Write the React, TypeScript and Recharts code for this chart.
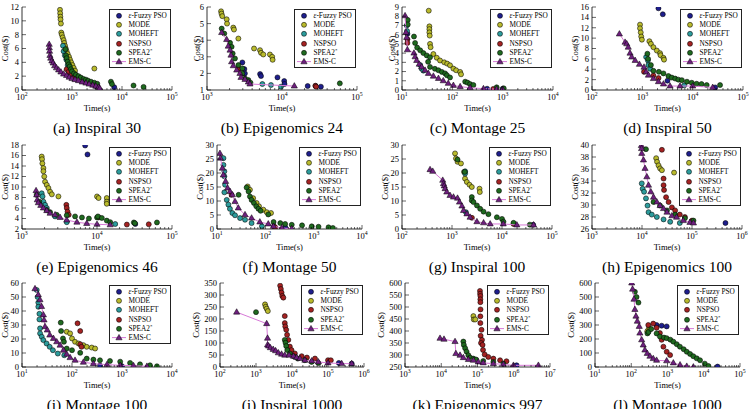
import React from "react";
import { ScatterChart, Scatter, XAxis, YAxis } from "recharts";

type Pt = [number, number];

const FONT = '"Liberation Serif", "DejaVu Serif", serif';

// (a) Inspiral 30
const insp30Fuzzy: Pt[] = [[2500, 0.9], [2900, 0.6], [3200, 0.5], [7000, 0.4]];
const insp30Mode: Pt[] = [[575, 11.6], [580, 11.1], [585, 10.6], [590, 10.2], [600, 9.6], [610, 8.3], [625, 8.0], [650, 7.6], [680, 7.2], [700, 6.8], [725, 6.4], [750, 6.0], [780, 5.6], [820, 5.2], [870, 4.8], [910, 4.4], [960, 4.0], [1020, 3.6], [1080, 3.2], [1150, 2.8], [2800, 3.1]];
const insp30Moheft: Pt[] = [[660, 6.4], [680, 5.6], [720, 5.0], [770, 4.4], [820, 3.6], [900, 3.0], [1000, 2.4]];
const insp30Nspso: Pt[] = [[780, 3.0], [850, 2.6], [950, 2.2], [1100, 1.7]];
const insp30Spea: Pt[] = [[740, 5.9], [760, 5.0], [780, 4.6], [820, 4.1], [860, 3.7], [900, 3.4], [950, 3.0], [1000, 2.7], [1100, 2.4], [1200, 2.2], [1350, 2.0], [1500, 1.8], [1700, 1.6], [1900, 1.5], [2100, 1.35], [2400, 1.2], [2800, 1.05], [3200, 0.9], [6000, 1.2], [6300, 0.85], [17000, 0.65], [27000, 0.45]];
const insp30Ems: Pt[] = [[350, 6.6], [352, 6.1], [356, 5.6], [362, 5.0], [375, 4.6], [395, 4.2], [420, 3.9], [450, 3.5], [490, 3.2], [540, 2.9], [600, 2.6], [680, 2.3], [780, 2.1], [880, 1.85], [1000, 1.65], [1150, 1.5], [1350, 1.35], [1600, 1.15], [1900, 1.0], [2200, 0.85], [2600, 0.7], [3000, 0.55], [3400, 0.4], [3600, 0.25]];

// (b) Epigenomics 24
const epi24Fuzzy: Pt[] = [[2960, 2.66], [3150, 2.26], [3200, 2.0], [5100, 1.96], [5250, 1.84], [8700, 1.76], [10700, 1.54], [10800, 1.36], [22000, 1.24], [28000, 1.24], [33000, 1.2]];
const epi24Mode: Pt[] = [[1540, 5.74], [1560, 5.6], [1600, 5.45], [1830, 5.26], [1850, 5.0], [2240, 4.76], [2290, 4.64], [2620, 4.1], [4240, 3.5], [5090, 3.4], [5250, 3.24], [5630, 3.14], [6900, 3.14], [7400, 3.0], [7500, 2.82]];
const epi24Moheft: Pt[] = [[5470, 1.36], [7130, 1.3], [9700, 1.2]];
const epi24Nspso: Pt[] = [[2620, 2.25], [27900, 1.26], [28500, 1.2]];
const epi24Spea: Pt[] = [[1570, 4.7], [1700, 4.4], [2030, 3.84], [2130, 3.6], [2200, 3.2], [2360, 2.9], [2620, 2.5], [2960, 2.3], [2960, 2.0], [3210, 1.7], [3560, 1.6], [3800, 1.44], [59000, 1.4]];
const epi24Ems: Pt[] = [[1570, 4.46], [1830, 4.04], [1920, 3.64], [2030, 3.4], [2090, 3.1], [2130, 2.7], [2240, 2.46], [2490, 2.2], [2750, 2.0], [2840, 1.76], [3210, 1.64], [3560, 1.48], [3740, 1.36], [14600, 1.24]];

// (c) Montage 25
const mon25Fuzzy: Pt[] = [[12.8, 6.1], [490, 0.14], [1000, 0.14]];
const mon25Mode: Pt[] = [[34, 8.6], [35, 6.9], [35, 6.6], [35, 6.25], [35.5, 5.9], [36, 5.0], [37, 4.64], [42, 3.9], [49, 3.5], [57, 3.2], [69, 3.0], [79, 2.86], [90, 2.68], [105, 2.32], [119, 2.14], [143, 1.96], [149, 1.7]];
const mon25Moheft: Pt[] = [[12.4, 7.0], [12.6, 6.4], [23, 2.7], [24.6, 2.3], [26.6, 2.1]];
const mon25Nspso: Pt[] = [[12.8, 5.5], [12.8, 5.1], [650, 0.12]];
const mon25Spea: Pt[] = [[13, 7.6], [13, 7.1], [17.3, 5.8], [18.2, 5.1], [20, 4.6], [23, 4.3], [26.6, 4.0], [31, 3.75], [36, 3.55], [33, 3.05], [36, 2.5], [45, 2.3], [53, 2.14], [62, 1.96], [72, 1.8], [78, 1.6], [90, 1.36], [180, 0.9], [200, 0.8], [225, 0.64], [262, 0.54], [760, 0.29], [1050, 0.18]];
const mon25Ems: Pt[] = [[11.5, 8.05], [12, 6.25], [12.4, 5.7], [12.8, 4.36], [17.3, 4.0], [18.2, 3.6], [19.6, 3.2], [22, 2.8], [24.6, 2.5], [28.7, 2.14], [33.4, 1.8], [42, 1.5], [53, 1.25], [66, 1.0], [83, 0.72], [105, 0.5], [143, 0.36], [225, 0.25], [415, 0.14], [760, 0.1], [1000, 0.07]];

// (d) Inspiral 50
const insp50Fuzzy: Pt[] = [[2090, 15.75], [2550, 14.6], [3160, 1.8], [28000, 0.5]];
const insp50Mode: Pt[] = [[900, 12.6], [900, 11.9], [930, 11.1], [950, 10.3], [980, 9.7], [1380, 9.4], [1480, 8.9], [1660, 8.25], [1940, 7.6], [2250, 7.1], [2300, 6.7], [2630, 6.2], [2700, 5.85]];
const insp50Moheft: Pt[] = [[1190, 6.35], [1290, 5.7], [1320, 4.8], [1430, 4.1], [6800, 0.9]];
const insp50Nspso: Pt[] = [[1080, 3.5], [1660, 2.8], [2100, 2.3]];
const insp50Spea: Pt[] = [[1260, 7.0], [1300, 6.0], [1480, 4.8], [1660, 3.7], [2130, 3.5], [2630, 3.2], [3300, 2.7], [3850, 2.4], [4500, 2.2], [5200, 2.0], [6100, 1.9], [7700, 1.6], [9600, 1.4], [12000, 1.2], [15000, 1.15], [19000, 0.95], [35000, 0.95]];
const insp50Ems: Pt[] = [[350, 10.8], [454, 9.2], [490, 8.9], [525, 8.25], [570, 7.1], [615, 6.35], [720, 5.7], [875, 4.95], [1080, 4.4], [1190, 3.5], [1320, 2.86], [1660, 2.2], [2090, 1.6], [2630, 1.15], [3550, 0.76], [5600, 0.76], [10000, 0.76], [25000, 0.5]];

// (e) Epigenomics 46
const epi46Fuzzy: Pt[] = [[6950, 17.9], [7470, 16.2], [32400, 2.95]];
const epi46Mode: Pt[] = [[1830, 15.8], [1850, 15.3], [1870, 14.5], [1930, 13.6], [1930, 13.0], [1980, 12.0], [2030, 11.0], [2140, 10.4], [2250, 9.8], [2370, 9.1], [2500, 8.6], [3060, 8.2], [10000, 8.2], [10500, 7.9], [13500, 7.9], [13500, 7.2], [13500, 6.8]];
const epi46Moheft: Pt[] = [[1830, 8.8], [1880, 8.2], [1930, 7.2], [2030, 6.6], [2140, 6.0], [2760, 4.4], [3950, 3.3], [17500, 2.95]];
const epi46Nspso: Pt[] = [[3900, 6.6], [3950, 6.0], [4050, 5.3], [4200, 4.7], [10500, 4.2], [25000, 2.85], [49000, 2.9]];
const epi46Spea: Pt[] = [[1570, 8.5], [1700, 7.2], [2140, 5.6], [2370, 5.2], [2900, 4.7], [3950, 4.6], [5100, 4.4], [6300, 4.2], [7800, 4.0], [10000, 4.2], [10300, 4.4], [11600, 4.1], [13500, 3.6], [15000, 3.3], [31000, 3.25], [32000, 3.1], [63000, 3.25]];
const epi46Ems: Pt[] = [[1540, 9.3], [1570, 8.5], [1600, 7.55], [1650, 7.0], [1780, 6.5], [1930, 6.0], [2140, 5.5], [2370, 5.0], [2760, 4.7], [3220, 4.2], [3950, 3.7], [5400, 3.3], [7300, 3.05], [10000, 2.9], [15000, 2.8]];

// (f) Montage 50
const mon50Fuzzy: Pt[] = [[150, 1.0], [260, 0.5]];
const mon50Mode: Pt[] = [[43, 15.2], [48, 14.0], [56, 11.0], [66, 9.3], [74, 8.1], [91, 6.9], [107, 6.0], [131, 5.7]];
const mon50Moheft: Pt[] = [[13.6, 25.3], [13.6, 22.9], [14.2, 20.6], [14.2, 18.8], [14.7, 15.8], [14.2, 13.1], [15.9, 10.4], [17.2, 8.7], [18.5, 7.2], [20.8, 5.7], [23.6, 4.9], [30, 3.9], [38, 3.3], [52, 2.1], [85, 0.95]];
const mon50Nspso: Pt[] = [[20, 12.2], [160, 0.6]];
const mon50Spea: Pt[] = [[28, 12.2], [41, 14.8], [45, 13.4], [48, 11.6], [52, 10.4], [58, 9.3], [65, 8.1], [72, 7.2], [80, 6.5], [115, 5.2], [148, 2.5], [204, 2.1], [257, 1.8], [352, 1.5], [575, 1.3], [912, 0.95], [1260, 0.8], [2030, 0.6], [2500, 0.36]];
const mon50Ems: Pt[] = [[11.5, 27.0], [11.8, 25.3], [12.9, 21.7], [13.5, 19.3], [15.1, 17.0], [16.6, 14.6], [18.6, 13.4], [20.8, 12.2], [23.6, 9.8], [27.6, 7.5], [38, 5.1], [52, 3.9], [77, 2.5], [115, 1.8], [147, 0.95], [219, 0.36], [352, 0.12]];

// (g) Inspiral 100
const insp100Fuzzy: Pt[] = [[42000, 1.5]];
const insp100Mode: Pt[] = [[1150, 27.0], [1200, 25.2], [1290, 24.0], [1510, 23.4], [1740, 20.4], [1820, 18.0], [1980, 16.8], [2240, 15.8], [2490, 15.0], [3550, 14.4], [3600, 13.2]];
const insp100Moheft: Pt[] = [[1830, 20.6], [1830, 19.8], [1900, 6.0]];
const insp100Nspso: Pt[] = [[2500, 4.0], [17000, 1.8]];
const insp100Spea: Pt[] = [[1290, 24.8], [1800, 20.4], [2490, 11.4], [2490, 10.2], [2690, 9.6], [3150, 8.4], [3660, 7.2], [4280, 6.2], [5350, 5.3], [7900, 4.2], [10000, 3.6], [10700, 2.6], [17000, 2.2], [36000, 1.56]];
const insp100Ems: Pt[] = [[364, 21.2], [412, 20.6], [653, 17.4], [676, 16.2], [700, 15.4], [728, 14.4], [786, 13.2], [912, 12.0], [1070, 11.4], [1290, 11.0], [1410, 9.6], [1580, 8.2], [1700, 6.6], [1990, 5.4], [2300, 4.2], [3150, 2.6], [4280, 2.2], [5800, 1.8], [10600, 1.8], [19800, 1.44], [42800, 1.44]];

// (h) Epigenomics 100
const epi100Fuzzy: Pt[] = [[467000, 27.0]];
const epi100Mode: Pt[] = [[19200, 37.8], [20000, 37.2], [21400, 36.6], [23000, 36.1], [25000, 35.8], [43800, 35.4]];
const epi100Moheft: Pt[] = [[9890, 33.6], [10300, 32.7], [11000, 32.2], [12000, 31.1], [12900, 29.9], [13500, 28.8], [15700, 28.4], [19800, 28.0], [27000, 27.6], [36600, 27.2], [57000, 27.0]];
const epi100Nspso: Pt[] = [[25000, 39.2], [27000, 34.4], [27000, 33.3], [27600, 32.5], [30300, 31.3], [34000, 30.5], [39600, 29.6], [46000, 29.1], [57000, 28.4], [72000, 28.0], [100000, 27.4]];
const epi100Spea: Pt[] = [[12000, 39.3], [17000, 30.5], [23000, 29.9], [31600, 29.1], [46000, 28.4], [72000, 27.8], [107000, 27.4]];
const epi100Ems: Pt[] = [[9700, 39.9], [9800, 39.4], [9890, 38.6], [10700, 37.5], [11500, 36.1], [12500, 34.7], [13500, 33.3], [15000, 32.2], [17000, 31.3], [19800, 30.5], [23000, 29.9], [27000, 29.4], [31600, 28.8], [39600, 28.2], [49000, 27.96], [67000, 27.4], [91000, 27.1], [107000, 27.0]];

// (i) Montage 100
const mon100Fuzzy: Pt[] = [[363, 1.0], [1000, 0.5]];
const mon100Mode: Pt[] = [[78.5, 25.2], [91.6, 24], [100, 20.4], [115, 18], [135, 16.8], [169, 15.6], [197, 14.4], [248, 13.9], [290, 13.2]];
const mon100Moheft: Pt[] = [[19.7, 55], [20.5, 50], [21.2, 46], [21.2, 43], [22.3, 38], [22.3, 34], [23, 27.6], [23, 24], [24.8, 21.6], [26.7, 19.2], [31, 16.8], [35.8, 14.4], [41.5, 12], [52, 9.6], [70, 8.4]];
const mon100Nspso: Pt[] = [[129, 31.2], [146, 25.7], [146, 16.3], [155, 14.4]];
const mon100Spea: Pt[] = [[59.6, 31.7], [60.5, 25.7], [66, 20.4], [69, 18], [78.5, 13.2], [100, 12], [146, 10.1], [197, 6.0], [268, 5.3], [363, 4.8], [575, 4.3], [920, 3.8], [1450, 2.9], [2290, 1.9], [3630, 1.2], [5000, 0.5]];
const mon100Ems: Pt[] = [[18.2, 55.9], [21.2, 51.6], [22.9, 48], [24.6, 43.2], [26.8, 37.2], [27.6, 33.6], [28.9, 28.8], [32, 26.4], [36, 22.8], [42.5, 20.4], [49.5, 18], [57.8, 15.6], [67.5, 12], [78.5, 9.1], [91.6, 6.7], [115, 4.8], [169, 3.4], [268, 2.4], [500, 1.7], [920, 1.2], [1700, 0.96], [3150, 0.5]];

// (j) Inspiral 1000
const insp1000Fuzzy: Pt[] = [[200000, 16.9], [455000, 14.1]];
const insp1000Mode: Pt[] = [[1780, 261], [1860, 251], [1980, 243], [2130, 233]];
const insp1000Nspso: Pt[] = [[4680, 339], [4900, 325], [5130, 310], [5370, 296], [5750, 289], [6300, 212], [6300, 183], [6500, 169], [6900, 155], [7300, 134], [7900, 113], [8700, 85], [9700, 70.5], [12000, 56.4], [18600, 45], [26000, 39.5], [43500, 35.3], [100000, 28.2], [120000, 28]];
const insp1000Spea: Pt[] = [[1000, 228.6], [6300, 113], [6600, 101], [6900, 87.5], [7400, 70.5], [8700, 56.4], [11000, 45], [14500, 35], [22800, 28.2], [35000, 21.2], [54000, 16.9]];
const insp1000Ems: Pt[] = [[290, 228.6], [1980, 180.6], [2090, 120], [2090, 92], [2240, 87.5], [2500, 80.4], [3000, 73.4], [3500, 67.7], [4170, 59], [5130, 53.6], [6300, 49.4], [8300, 49.4], [11000, 45], [13500, 39.5], [16600, 35.3], [22800, 28.2], [35200, 25.4], [54000, 21.2], [100000, 16.9], [240000, 14.1], [455000, 14.1]];

// (k) Epigenomics 997
const epi997Fuzzy: Pt[] = [[340000, 525], [1200000, 257]];
const epi997Mode: Pt[] = [[77000, 462], [79000, 448], [87000, 448]];
const epi997Nspso: Pt[] = [[117000, 567], [118000, 555], [120000, 546], [120000, 532], [120000, 520], [121000, 490], [120000, 461], [120000, 433], [129000, 405], [122000, 380], [133000, 363], [125000, 350], [138000, 342], [142000, 321], [158000, 302], [198000, 292], [274000, 285], [420000, 278], [630000, 274]];
const epi997Spea: Pt[] = [[40700, 356], [42000, 342], [45700, 328], [50000, 314], [56000, 299], [63000, 289], [77000, 285], [92000, 281], [144000, 275], [274000, 271], [516000, 264]];
const epi997Ems: Pt[] = [[9250, 369.6], [11900, 365.7], [24000, 356], [25300, 306], [33000, 299], [40700, 289], [56000, 281], [77000, 278], [105000, 271], [144000, 267], [274000, 264], [516000, 261], [981000, 257], [4780000, 257]];

// (l) Montage 1000
const mon1000Fuzzy: Pt[] = [[500, 300], [690, 295], [950, 290], [24000, 3]];
const mon1000Mode: Pt[] = [[276, 254], [300, 270], [328, 271]];
const mon1000Nspso: Pt[] = [[295, 300], [404, 310], [500, 280], [617, 242], [690, 194], [770, 145], [950, 109], [1180, 85]];
const mon1000Spea: Pt[] = [[126, 537], [140, 500], [158, 460], [280, 240], [300, 250], [355, 271], [500, 240], [617, 218], [800, 210], [950, 206], [1200, 195], [1450, 181], [1800, 163], [2200, 145], [2800, 127], [3400, 109], [4200, 93], [5150, 77], [6400, 62], [7900, 48], [10700, 24], [13500, 7]];
const mon1000Ems: Pt[] = [[103, 600], [109, 556], [119, 484], [126, 411], [135, 363], [147, 327], [166, 290], [173, 242], [194, 194], [214, 157], [238, 121], [276, 97], [328, 77], [404, 60], [500, 48], [950, 44], [1450, 29], [2220, 15], [3400, 5], [5170, 0]];

// y-axis tick labels
const insp30Ticks = [0, 2, 4, 6, 8, 10, 12];
const epi24Ticks = [1, 2, 3, 4, 5, 6];
const mon25Ticks = [0, 1, 2, 3, 4, 5, 6, 7, 8, 9];
const insp50Ticks = [0, 2, 4, 6, 8, 10, 12, 14, 16];
const epi46Ticks = [2, 4, 6, 8, 10, 12, 14, 16, 18];
const mon50Ticks = [0, 5, 10, 15, 20, 25, 30];
const insp100Ticks = [0, 5, 10, 15, 20, 25, 30];
const epi100Ticks = [26, 28, 30, 32, 34, 36, 38, 40];
const mon100Ticks = [0, 10, 20, 30, 40, 50, 60];
const insp1000Ticks = [0, 50, 100, 150, 200, 250, 300, 350];
const epi997Ticks = [250, 300, 350, 400, 450, 500, 550, 600];
const mon1000Ticks = [0, 100, 200, 300, 400, 500, 600];

type Key = "fuzzy" | "mode" | "moheft" | "nspso" | "spea" | "ems";

const STYLE: Record<Key, { fill: string; label: React.ReactNode }> = {
  fuzzy: { fill: "#1e1e8c", label: <><i>ε</i>-Fuzzy PSO</> },
  mode: { fill: "#b9ba2c", label: "MODE" },
  moheft: { fill: "#2c9c9c", label: "MOHEFT" },
  nspso: { fill: "#a42222", label: "NSPSO" },
  spea: { fill: "#1f6a1f", label: <>SPEA2<sup style={{ fontSize: 5, lineHeight: 0 }}>*</sup></> },
  ems: { fill: "#6e1f7e", label: "EMS-C" },
};
const ORDER: Key[] = ["fuzzy", "mode", "moheft", "nspso", "spea", "ems"];
const EMS_LINE = "#d77ad7";

interface PanelDef {
  caption: string;
  left: number;
  top: number;
  w: number;
  h: number;
  xDomain: [number, number];
  yDomain: [number, number];
  yTicks: number[];
  series: Partial<Record<Key, Pt[]>>;
}

const PANELS: PanelDef[] = [
  { caption: "(a) Inspiral 30", left: 22, top: 7, w: 150, h: 83, xDomain: [1e2, 1e5], yDomain: [0, 12], yTicks: insp30Ticks,
    series: { fuzzy: insp30Fuzzy, mode: insp30Mode, moheft: insp30Moheft, nspso: insp30Nspso, spea: insp30Spea, ems: insp30Ems } },
  { caption: "(b) Epigenomics 24", left: 207, top: 7, w: 150, h: 83, xDomain: [1e3, 1e5], yDomain: [1, 6], yTicks: epi24Ticks,
    series: { fuzzy: epi24Fuzzy, mode: epi24Mode, moheft: epi24Moheft, nspso: epi24Nspso, spea: epi24Spea, ems: epi24Ems } },
  { caption: "(c) Montage 25", left: 402, top: 7, w: 151, h: 83, xDomain: [1e1, 1e4], yDomain: [0, 9], yTicks: mon25Ticks,
    series: { fuzzy: mon25Fuzzy, mode: mon25Mode, moheft: mon25Moheft, nspso: mon25Nspso, spea: mon25Spea, ems: mon25Ems } },
  { caption: "(d) Inspiral 50", left: 592, top: 7, w: 151, h: 83, xDomain: [1e2, 1e5], yDomain: [0, 16], yTicks: insp50Ticks,
    series: { fuzzy: insp50Fuzzy, mode: insp50Mode, moheft: insp50Moheft, nspso: insp50Nspso, spea: insp50Spea, ems: insp50Ems } },
  { caption: "(e) Epigenomics 46", left: 22, top: 145, w: 150, h: 84, xDomain: [1e3, 1e5], yDomain: [2, 18], yTicks: epi46Ticks,
    series: { fuzzy: epi46Fuzzy, mode: epi46Mode, moheft: epi46Moheft, nspso: epi46Nspso, spea: epi46Spea, ems: epi46Ems } },
  { caption: "(f) Montage 50", left: 217, top: 145, w: 145, h: 84, xDomain: [1e1, 1e4], yDomain: [0, 30], yTicks: mon50Ticks,
    series: { fuzzy: mon50Fuzzy, mode: mon50Mode, moheft: mon50Moheft, nspso: mon50Nspso, spea: mon50Spea, ems: mon50Ems } },
  { caption: "(g) Inspiral 100", left: 402, top: 145, w: 150, h: 84, xDomain: [1e2, 1e5], yDomain: [0, 30], yTicks: insp100Ticks,
    series: { fuzzy: insp100Fuzzy, mode: insp100Mode, moheft: insp100Moheft, nspso: insp100Nspso, spea: insp100Spea, ems: insp100Ems } },
  { caption: "(h) Epigenomics 100", left: 592, top: 145, w: 150, h: 84, xDomain: [1e3, 1e6], yDomain: [26, 40], yTicks: epi100Ticks,
    series: { fuzzy: epi100Fuzzy, mode: epi100Mode, moheft: epi100Moheft, nspso: epi100Nspso, spea: epi100Spea, ems: epi100Ems } },
  { caption: "(i) Montage 100", left: 22, top: 283, w: 150, h: 84, xDomain: [1e1, 1e4], yDomain: [0, 60], yTicks: mon100Ticks,
    series: { fuzzy: mon100Fuzzy, mode: mon100Mode, moheft: mon100Moheft, nspso: mon100Nspso, spea: mon100Spea, ems: mon100Ems } },
  { caption: "(j) Inspiral 1000", left: 220, top: 283, w: 144, h: 84, xDomain: [1e2, 1e6], yDomain: [0, 350], yTicks: insp1000Ticks,
    series: { fuzzy: insp1000Fuzzy, mode: insp1000Mode, nspso: insp1000Nspso, spea: insp1000Spea, ems: insp1000Ems } },
  { caption: "(k) Epigenomics 997", left: 405, top: 283, w: 145, h: 84, xDomain: [1e3, 1e7], yDomain: [250, 600], yTicks: epi997Ticks,
    series: { fuzzy: epi997Fuzzy, mode: epi997Mode, nspso: epi997Nspso, spea: epi997Spea, ems: epi997Ems } },
  { caption: "(l) Montage 1000", left: 595, top: 283, w: 145, h: 84, xDomain: [1e1, 1e5], yDomain: [0, 600], yTicks: mon1000Ticks,
    series: { fuzzy: mon1000Fuzzy, mode: mon1000Mode, nspso: mon1000Nspso, spea: mon1000Spea, ems: mon1000Ems } },
];

const AXIS_W = 36;
const AXIS_H = 26;
const PAD_T = 8; // room above the top y tick label
const PAD_R = 12; // room for the last x tick label

// major + minor ticks for a log axis
function logTicks([lo, hi]: [number, number]) {
  const out: number[] = [];
  for (let d = Math.round(Math.log10(lo)); d < Math.round(Math.log10(hi)); d++) {
    for (let k = 1; k < 10; k++) out.push(k * Math.pow(10, d));
  }
  out.push(hi);
  return out;
}

const isMajor = (v: number) => {
  const l = Math.log10(v);
  return Math.abs(l - Math.round(l)) < 1e-6;
};

const BottomTick = (props: any) => {
  const { x, y, payload } = props;
  const major = isMajor(payload.value);
  return (
    <g>
      <line x1={x} x2={x} y1={y} y2={y - (major ? 4 : 2)} stroke="#000" strokeWidth={0.6} />
      {major && (
        <text x={x} y={y + 10} textAnchor="middle" fontSize={8.5} fontFamily={FONT} fill="#000">
          10<tspan dy={-3.6} fontSize={5.8}>{Math.round(Math.log10(payload.value))}</tspan>
        </text>
      )}
    </g>
  );
};

const TopTick = (props: any) => {
  const { x, y, payload } = props;
  const major = isMajor(payload.value);
  return <line x1={x} x2={x} y1={y} y2={y + (major ? 4 : 2)} stroke="#000" strokeWidth={0.6} />;
};

const LeftTick = (props: any) => {
  const { x, y, payload } = props;
  return (
    <g>
      <line x1={x} x2={x + 4} y1={y} y2={y} stroke="#000" strokeWidth={0.6} />
      <text x={x - 3} y={y + 2.9} textAnchor="end" fontSize={8.5} fontFamily={FONT} fill="#000">
        {payload.value}
      </text>
    </g>
  );
};

const RightTick = (props: any) => {
  const { x, y } = props;
  return <line x1={x} x2={x - 4} y1={y} y2={y} stroke="#000" strokeWidth={0.6} />;
};

function Marker({ k, cx, cy }: { k: Key; cx: number; cy: number }) {
  const fill = STYLE[k].fill;
  if (k === "ems") {
    return (
      <polygon
        points={`${cx},${cy - 3.4} ${cx - 3.1},${cy + 2} ${cx + 3.1},${cy + 2}`}
        fill={fill}
        stroke="#000"
        strokeWidth={0.5}
      />
    );
  }
  return <circle cx={cx} cy={cy} r={2.5} fill={fill} stroke="#000" strokeWidth={0.55} />;
}

function LegendBox({ keys }: { keys: Key[] }) {
  return (
    <div
      style={{
        position: "absolute",
        right: PAD_R + 1.5,
        top: PAD_T + 2,
        width: 60,
        padding: "1px 0",
        background: "#fff",
        border: "0.8px solid #222",
        fontFamily: FONT,
        fontSize: 7.3,
        color: "#000",
      }}>
      {keys.map((k) => (
        <div key={k} style={{ display: "flex", alignItems: "center", height: 9.2 }}>
          <svg width={19} height={9.2} style={{ flexShrink: 0 }}>
            {k === "ems" && <line x1={2} x2={16} y1={4.6} y2={4.6} stroke={EMS_LINE} strokeWidth={1} />}
            <Marker k={k} cx={9} cy={4.8} />
          </svg>
          <span style={{ whiteSpace: "nowrap" }}>{STYLE[k].label}</span>
        </div>
      ))}
    </div>
  );
}

function Panel({ p }: { p: PanelDef }) {
  const W = AXIS_W + p.w + PAD_R;
  const H = PAD_T + p.h + AXIS_H;
  const keys = ORDER.filter((k) => p.series[k]);
  const xt = logTicks(p.xDomain);
  const axisLine = { stroke: "#000", strokeWidth: 0.8 };
  const labelStyle = { fontSize: 8.5, fontFamily: FONT, fill: "#000", textAnchor: "middle" as const };
  // the y title sits clear of the widest tick label
  const digits = Math.max(...p.yTicks.map((t) => String(t).length));
  const titleGap = 3 + 7 * digits;

  return (
    <>
      <div style={{ position: "absolute", left: p.left - AXIS_W, top: p.top - PAD_T, width: W, height: H }}>
        <ScatterChart width={W} height={H} margin={{ top: PAD_T, right: PAD_R, bottom: 0, left: 0 }}>
          <XAxis
            xAxisId="b"
            type="number"
            dataKey="x"
            scale="log"
            domain={p.xDomain}
            ticks={xt}
            interval={0}
            allowDataOverflow
            height={AXIS_H}
            tickSize={0}
            tickMargin={0}
            tickLine={false}
            axisLine={axisLine}
            tick={<BottomTick />}
            label={{ value: "Time(s)", position: "insideBottom", offset: 5, style: labelStyle }}
          />
          <XAxis
            xAxisId="t"
            orientation="top"
            type="number"
            dataKey="x"
            scale="log"
            domain={p.xDomain}
            ticks={xt}
            interval={0}
            allowDataOverflow
            height={0}
            tickSize={0}
            tickMargin={0}
            tickLine={false}
            axisLine={axisLine}
            tick={<TopTick />}
          />
          <YAxis
            yAxisId="l"
            type="number"
            dataKey="y"
            domain={p.yDomain}
            ticks={p.yTicks}
            interval={0}
            allowDataOverflow
            width={AXIS_W}
            tickSize={0}
            tickMargin={0}
            tickLine={false}
            axisLine={axisLine}
            tick={<LeftTick />}
            label={{ value: "Cost($)", angle: -90, position: "insideLeft", offset: AXIS_W - titleGap, style: labelStyle }}
          />
          <YAxis
            yAxisId="r"
            orientation="right"
            type="number"
            dataKey="y"
            domain={p.yDomain}
            ticks={p.yTicks}
            interval={0}
            allowDataOverflow
            width={0}
            tickSize={0}
            tickMargin={0}
            tickLine={false}
            axisLine={axisLine}
            tick={<RightTick />}
          />
          {keys.map((k) => (
            <Scatter
              key={k}
              name={k}
              xAxisId="b"
              yAxisId="l"
              data={(p.series[k] as Pt[]).map(([x, y]) => ({ x, y }))}
              line={k === "ems" ? { stroke: EMS_LINE, strokeWidth: 1 } : false}
              shape={(s: any) => <Marker k={k} cx={s.cx} cy={s.cy} />}
              isAnimationActive={false}
            />
          ))}
        </ScatterChart>
        <LegendBox keys={keys} />
      </div>
      <div
        style={{
          position: "absolute",
          left: p.left - 30,
          width: p.w + 60,
          top: p.top + p.h + 37.5 - 10,
          height: 20,
          lineHeight: "20px",
          textAlign: "center",
          fontFamily: FONT,
          fontSize: 15.5,
          color: "#000",
          whiteSpace: "nowrap",
        }}>
        {p.caption}
      </div>
    </>
  );
}

export default function App() {
  return (
    <div style={{ position: "absolute", left: 0, top: 0, width: 753, height: 409, background: "#fff", overflow: "hidden" }}>
      {PANELS.map((p) => (
        <Panel key={p.caption} p={p} />
      ))}
    </div>
  );
}
